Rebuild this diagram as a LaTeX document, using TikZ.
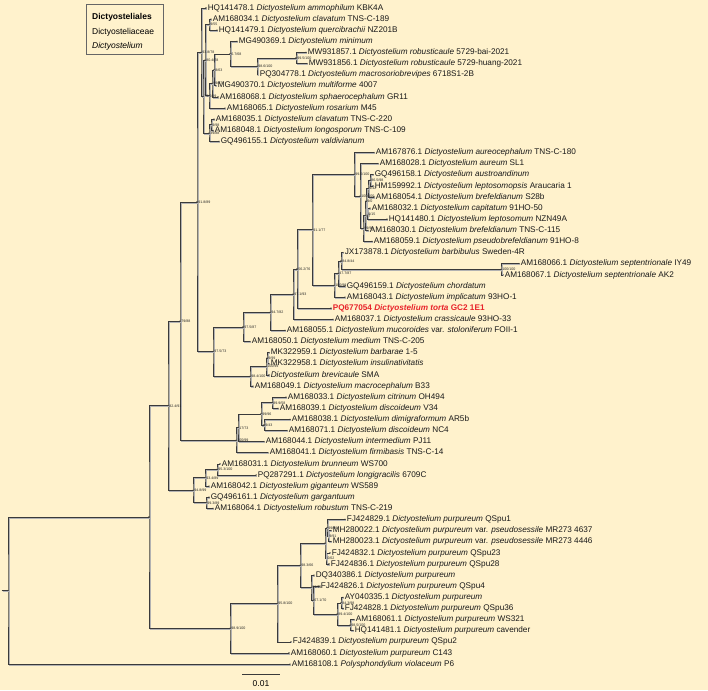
\documentclass[tikz,border=0pt]{standalone}
\usepackage{fontspec}
\setmainfont{Liberation Sans}
\usetikzlibrary{calc}
\definecolor{bg}{HTML}{FFF2CC}
\definecolor{br}{HTML}{3A3A3A}
\definecolor{torta}{HTML}{E8232A}
\tikzset{
  branch/.style={draw=br, line width=0.7pt},
  shadowbr/.style={draw=black!30, line width=0.7pt, transform canvas={xshift=0.9pt,yshift=-0.9pt}},
  leaf/.style={anchor=west, inner sep=0pt, xshift=1.6pt, font=\fontsize{8.2}{9}\selectfont, text=black!90},
  sup/.style={anchor=west, inner sep=0pt, xshift=1.2pt, font=\fontsize{3.6}{4}\selectfont, text=black!85},
  legtext/.style={anchor=west, inner sep=0pt, font=\fontsize{8.5}{10}\selectfont}
}
\newcommand\tleaf[4]{%
  \coordinate (#1) at (#2,{8+(#3-1)*11.12});
  \fill[br] (#1) circle (0.8pt);
  \node[leaf] (#1t) at (#1) {#4};}
\newcommand\tnode[5]{%
  \coordinate (tmpm) at ($(#3)!0.5!(#4)$);
  \coordinate (tmpx) at (#2,0);
  \coordinate (#1) at (tmpm -| tmpx);
  \draw[shadowbr] (#3) -| (#1) |- (#4);
  \draw[branch] (#3) -| (#1) |- (#4);
  \fill[br] (#1) circle (0.8pt);
  \node[sup] (#1t) at (#1) {#5};}
\newcommand\D{\textit{Dictyostelium}}
\begin{document}
\begin{tikzpicture}[x=1pt,y=-1pt]
\fill[bg] (0,0) rectangle (708,690);
\useasboundingbox (0,0) rectangle (708,690);
% legend
\draw[draw=black!60, line width=0.5pt] (86,4) rectangle (163,54);
\node[legtext] (lg1) at (92,17) {\textbf{Dictyosteliales}};
\node[legtext] (lg2) at (92,32) {Dictyosteliaceae};
\node[legtext] (lg3) at (92,46) {\textit{Dictyostelium}};
% leaves
\tleaf{L1}{206}{1}{HQ141478.1 \D\ \textit{ammophilum} KBK4A}
\tleaf{L2}{211}{2}{AM168034.1 \D\ \textit{clavatum} TNS-C-189}
\tleaf{L3}{217}{3}{HQ141479.1 \D\ \textit{quercibrachii} NZ201B}
\tleaf{L4}{237}{4}{MG490369.1 \D\ \textit{minimum}}
\tleaf{L5}{306}{5}{MW931857.1 \D\ \textit{robusticaule} 5729-bai-2021}
\tleaf{L6}{307}{6}{MW931856.1 \D\ \textit{robusticaule} 5729-huang-2021}
\tleaf{L7}{258}{7}{PQ304778.1 \D\ \textit{macrosoriobrevipes} 6718S1-2B}
\tleaf{L8}{216}{8}{MG490370.1 \D\ \textit{multiforme} 4007}
\tleaf{L9}{218}{9}{AM168068.1 \D\ \textit{sphaerocephalum} GR11}
\tleaf{L10}{225}{10}{AM168065.1 \D\ \textit{rosarium} M45}
\tleaf{L11}{214}{11}{AM168035.1 \D\ \textit{clavatum} TNS-C-220}
\tleaf{L12}{213}{12}{AM168048.1 \D\ \textit{longosporum} TNS-C-109}
\tleaf{L13}{219}{13}{GQ496155.1 \D\ \textit{valdivianum}}
\tleaf{L14}{374}{14}{AM167876.1 \D\ \textit{aureocephalum} TNS-C-180}
\tleaf{L15}{378}{15}{AM168028.1 \D\ \textit{aureum} SL1}
\tleaf{L16}{373}{16}{GQ496158.1 \D\ \textit{austroandinum}}
\tleaf{L17}{373}{17}{HM159992.1 \D\ \textit{leptosomopsis} Araucaria 1}
\tleaf{L18}{374}{18}{AM168054.1 \D\ \textit{brefeldianum} S28b}
\tleaf{L19}{370}{19}{AM168032.1 \D\ \textit{capitatum} 91HO-50}
\tleaf{L20}{387}{20}{HQ141480.1 \D\ \textit{leptosomum} NZN49A}
\tleaf{L21}{368}{21}{AM168030.1 \D\ \textit{brefeldianum} TNS-C-115}
\tleaf{L22}{372}{22}{AM168059.1 \D\ \textit{pseudobrefeldianum} 91HO-8}
\tleaf{L23}{343}{23}{JX173878.1 \D\ \textit{barbibulus} Sweden-4R}
\tleaf{L24}{519}{24}{AM168066.1 \D\ \textit{septentrionale} IY49}
\tleaf{L25}{503}{25}{AM168067.1 \D\ \textit{septentrionale} AK2}
\tleaf{L26}{345}{26}{GQ496159.1 \D\ \textit{chordatum}}
\tleaf{L27}{345}{27}{AM168043.1 \D\ \textit{implicatum} 93HO-1}
\tleaf{L28}{331}{28}{\textcolor{torta}{\textbf{PQ677054 \textit{Dictyostelium torta} GC2 1E1}}}
\tleaf{L29}{333}{29}{AM168037.1 \D\ \textit{crassicaule} 93HO-33}
\tleaf{L30}{285}{30}{AM168055.1 \D\ \textit{mucoroides} var. \textit{stoloniferum} FOII-1}
\tleaf{L31}{250}{31}{AM168050.1 \D\ \textit{medium} TNS-C-205}
\tleaf{L32}{269}{32}{MK322959.1 \D\ \textit{barbarae} 1-5}
\tleaf{L33}{269}{33}{MK322958.1 \D\ \textit{insulinativitatis}}
\tleaf{L34}{269}{34}{\D\ \textit{brevicaule} SMA}
\tleaf{L35}{253}{35}{AM168049.1 \D\ \textit{macrocephalum} B33}
\tleaf{L36}{286}{36}{AM168033.1 \D\ \textit{citrinum} OH494}
\tleaf{L37}{278}{37}{AM168039.1 \D\ \textit{discoideum} V34}
\tleaf{L38}{290}{38}{AM168038.1 \D\ \textit{dimigraformum} AR5b}
\tleaf{L39}{287}{39}{AM168071.1 \D\ \textit{discoideum} NC4}
\tleaf{L40}{264}{40}{AM168044.1 \D\ \textit{intermedium} PJ11}
\tleaf{L41}{268}{41}{AM168041.1 \D\ \textit{firmibasis} TNS-C-14}
\tleaf{L42}{220}{42}{AM168031.1 \D\ \textit{brunneum} WS700}
\tleaf{L43}{256}{43}{PQ287291.1 \D\ \textit{longigracilis} 6709C}
\tleaf{L44}{209}{44}{AM168042.1 \D\ \textit{giganteum} WS589}
\tleaf{L45}{209}{45}{GQ496161.1 \D\ \textit{gargantuum}}
\tleaf{L46}{213}{46}{AM168064.1 \D\ \textit{robustum} TNS-C-219}
\tleaf{L47}{345}{47}{FJ424829.1 \D\ \textit{purpureum} QSpu1}
\tleaf{L48}{331}{48}{MH280022.1 \D\ \textit{purpureum} var. \textit{pseudosessile} MR273 4637}
\tleaf{L49}{331}{49}{MH280023.1 \D\ \textit{purpureum} var. \textit{pseudosessile} MR273 4446}
\tleaf{L50}{330}{50}{FJ424832.1 \D\ \textit{purpureum} QSpu23}
\tleaf{L51}{329}{51}{FJ424836.1 \D\ \textit{purpureum} QSpu28}
\tleaf{L52}{314}{52}{DQ340386.1 \D\ \textit{purpureum}}
\tleaf{L53}{319}{53}{FJ424826.1 \D\ \textit{purpureum} QSpu4}
\tleaf{L54}{343}{54}{AY040335.1 \D\ \textit{purpureum}}
\tleaf{L55}{343}{55}{FJ424828.1 \D\ \textit{purpureum} QSpu36}
\tleaf{L56}{354}{56}{AM168061.1 \D\ \textit{purpureum} WS321}
\tleaf{L57}{353}{57}{HQ141481.1 \D\ \textit{purpureum} cavender}
\tleaf{L58}{291}{58}{FJ424839.1 \D\ \textit{purpureum} QSpu2}
\tleaf{L59}{289}{59}{AM168060.1 \D\ \textit{purpureum} C143}
\tleaf{L60}{290}{60}{AM168108.1 \textit{Polysphondylium violaceum} P6}
% top clade
\tnode{n995}{296}{L5}{L6}{99.5/100}
\tnode{n986}{257}{n995}{L7}{98.6/100}
\tnode{n67}{230}{L4}{n986}{6.7/68}
\tnode{n863}{214}{n67}{L8}{8/63}
\tnode{nT3}{212}{n863}{L9}{99/97}
\tnode{nT2}{209}{nT3}{L10}{}
\tnode{n955}{209}{L2}{L3}{9/55}
\tnode{n804}{205}{n955}{nT2}{80.4/78}
\tnode{n998}{211}{L11}{L12}{9/98}
\tnode{n3988}{209}{n998}{L13}{39/88}
\tnode{nT1}{203}{n804}{n3988}{75.6/99}
\tnode{n938}{201}{L1}{nT1}{93.8/78}
% brefeldianum clade
\tnode{n865}{370}{L16}{L17}{86.5/98}
\tnode{n942}{368}{n865}{L18}{9/42}
\tnode{n915}{367}{L19}{L20}{9/15}
\tnode{n90}{366}{n942}{n915}{9/0}
\tnode{nW}{365}{n90}{L21}{97}
\tnode{n9999}{363}{nW}{L22}{99/99}
\tnode{nX}{360}{L15}{n9999}{100/100}
\tnode{n996}{354}{L14}{nX}{99.6/100}
\tnode{n100}{501}{L24}{L25}{100/100}
\tnode{n848}{341}{L23}{n100}{84.8/44}
\tnode{n477}{338}{n848}{L26}{47.7/87}
\tnode{nB100}{334}{n477}{L27}{100/99}
\tnode{n911}{312}{n996}{nB100}{91.1/77}
\tnode{n562}{297}{n911}{L28}{56.2/76}
\tnode{n971}{293}{n562}{L29}{97.1/93}
\tnode{n947}{270}{n971}{L30}{94.7/82}
\tnode{n9787}{243}{n947}{L31}{97.5/87}
\tnode{n999}{267}{L32}{L33}{9/99}
\tnode{nM2}{266}{n999}{L34}{100/99}
\tnode{n984}{250}{nM2}{L35}{98.4/100}
\tnode{n9773}{213}{n9787}{n984}{97.5/73}
\tnode{n918}{197}{n938}{n9773}{91.8/89}
% discoideum clade
\tnode{n899}{272}{L36}{L37}{89.9/58}
\tnode{n943}{264}{L38}{L39}{9/43}
\tnode{n9996}{261}{n899}{n943}{99/96}
\tnode{n1773}{238}{n9996}{L40}{17/73}
\tnode{n10099}{236}{n1773}{L41}{100/99}
\tnode{n7988}{180}{n918}{n10099}{79/88}
% giganteum clade
\tnode{n953}{217}{L42}{L43}{95.3/100}
\tnode{n934}{205}{n953}{L44}{93.4/89}
\tnode{n993}{206}{L45}{L46}{99.3/89}
\tnode{n948}{193}{n934}{n993}{94.8/99}
\tnode{n824}{168}{n7988}{n948}{82.4/91}
% purpureum clade
\tnode{n991}{328}{L48}{L49}{9/91}
\tnode{nP1}{327}{L47}{n991}{99/99}
\tnode{n062}{326}{L50}{L51}{0/62}
\tnode{nQ1}{325}{nP1}{n062}{}
\tnode{n843}{341}{L54}{L55}{84.3/98}
\tnode{n985}{350}{L56}{L57}{98.5/100}
\tnode{n894}{337}{n843}{n985}{89.4/100}
\tnode{nR2}{313}{L53}{n894}{67.1/70}
\tnode{nR}{311}{L52}{nR2}{99/99}
\tnode{n983}{300}{nQ1}{nR}{98.3/66}
\tnode{n958}{277}{n983}{L58}{95.8/100}
\tnode{n989}{230}{n958}{L59}{98.9/100}
\tnode{nA}{149}{n824}{n989}{}
\tnode{root}{8}{nA}{L60}{}
\coordinate (rstub) at (2,590.5);
\draw[shadowbr] (rstub) -- (root);
\draw[branch] (rstub) -- (root);
% scale bar
\coordinate (sb1) at (242,674);
\coordinate (sb2) at (280,674);
\draw[branch] (sb1) -- (sb2);
\node[font=\fontsize{8.5}{10}\selectfont, inner sep=0pt] (sbl) at (261,684) {0.01};
\end{tikzpicture}
\end{document}
